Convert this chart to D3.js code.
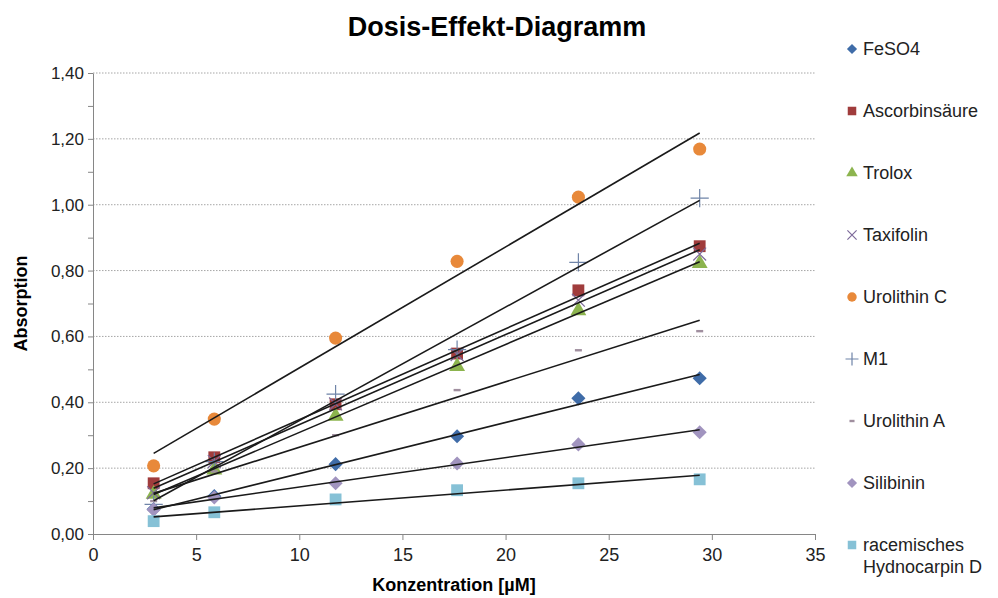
<!DOCTYPE html>
<html>
<head>
<meta charset="utf-8">
<script src="https://cdn.jsdelivr.net/npm/d3@7"></script>
<style>
  body { margin: 0; background: #fff; }
  svg { font-family: "Liberation Sans", Arial, sans-serif; }
  .axis path, .axis line { stroke: #868686; }
  .axis text { fill: #222; font-size: 18px; }
  .yaxis text { font-size: 17px; }
</style>
</head>
<body>
<div id="graf"></div>
<script>
// Daten
const konz = [2.94, 5.88, 11.76, 17.65, 23.53, 29.41]
const namen = ["FeSO4", "Ascorbinsäure", "Trolox", "Taxifolin", "Urolithin C",
               "M1", "Urolithin A", "Silibinin", "racemisches Hydnocarpin D"]
const feso4       = [0.075, 0.115, 0.212, 0.297, 0.412, 0.473]
const ascorbin    = [0.154, 0.233, 0.394, 0.548, 0.740, 0.874]
const trolox      = [0.121, 0.195, 0.358, 0.509, 0.678, 0.822]
const taxifolin   = [0.125, 0.220, 0.395, 0.545, 0.710, 0.850]
const urolithinC  = [0.207, 0.349, 0.595, 0.828, 1.023, 1.169]
const m1          = [0.090, 0.220, 0.425, 0.560, 0.825, 1.020]
const urolithinA  = [0.100, 0.190, 0.300, 0.437, 0.558, 0.616]
const silibinin   = [0.074, 0.111, 0.154, 0.214, 0.272, 0.309]
const hydnocarpin = [0.039, 0.066, 0.105, 0.133, 0.154, 0.166]
const xTicks = [0, 5, 10, 15, 20, 25, 30, 35]
const yTicks = [0, 0.2, 0.4, 0.6, 0.8, 1.0, 1.2, 1.4]

const werte = [feso4, ascorbin, trolox, taxifolin, urolithinC, m1, urolithinA, silibinin, hydnocarpin]
const farben = ["#3f6ca8", "#a03c3c", "#8cb44e", "#7d6a9a", "#e8893a",
                "#6f84a8", "#a08f9f", "#a194bf", "#86c1d6"]
const formen = ["diamond", "square", "triangle", "times", "circle", "plus", "dash", "diamond", "square"]

const series = namen.map((n, i) => ({
  name: n, color: farben[i], shape: formen[i],
  pts: konz.map((x, j) => ({ x: x, y: werte[i][j] }))
}))

// Dimensionen
const ancho = 998, alto = 598
const margins = { top: 73, right: 183, bottom: 64, left: 93 }

const svg = d3.select("#graf").append("svg")
  .attr("width", ancho).attr("height", alto)

svg.append("rect").attr("width", ancho).attr("height", alto).attr("fill", "#fff")

const x = d3.scaleLinear().domain([0, 35]).range([margins.left, ancho - margins.right])
const y = d3.scaleLinear().domain([0, 1.4]).range([alto - margins.bottom, margins.top])

const fmt = d => d3.format(".2f")(d).replace(".", ",")

// Gitterlinien
svg.append("g").selectAll("line")
  .data(yTicks.slice(1))
  .join("line")
  .attr("x1", x(0)).attr("x2", x(35))
  .attr("y1", d => y(d)).attr("y2", d => y(d))
  .attr("stroke", "#a6a6a6")
  .attr("stroke-dasharray", "1.5,1.5")

// Achsen
const minor = d3.range(0.1, 1.4, 0.2)
svg.append("g").attr("class", "axis")
  .attr("transform", `translate(${x(0)},0)`)
  .call(d3.axisLeft(y).tickValues(minor).tickSize(5).tickFormat(""))
  .call(g => g.select(".domain").remove())

svg.append("g").attr("class", "axis yaxis")
  .attr("transform", `translate(${x(0)},0)`)
  .call(d3.axisLeft(y).tickValues(yTicks).tickSize(5).tickSizeOuter(0).tickPadding(4).tickFormat(fmt))

svg.append("g").attr("class", "axis")
  .attr("transform", `translate(0,${y(0)})`)
  .call(d3.axisBottom(x).tickValues(xTicks).tickSize(6).tickSizeOuter(0).tickPadding(8))

// Marker
const symbolFor = (shape) => {
  const map = {
    diamond: [d3.symbolSquare, 100],
    square: [d3.symbolSquare, 140],
    triangle: [d3.symbolTriangle, 110],
    circle: [d3.symbolCircle, 135],
    times: [d3.symbolTimes || d3.symbolX, 110],
    plus: [d3.symbolPlus || d3.symbolCross, 110]
  }
  return map[shape]
}

const drawMarker = (sel, s, scale) => {
  if (s.shape === "dash") {
    sel.append("rect")
      .attr("x", -3.5 * scale).attr("y", -1.2)
      .attr("width", 7 * scale).attr("height", 2.4)
      .attr("fill", s.color)
    return
  }
  const [type, size] = symbolFor(s.shape)
  const p = sel.append("path")
    .attr("d", d3.symbol().type(type).size(size * scale * scale)())
  if (s.shape === "diamond") p.attr("transform", "rotate(45)")
  if (s.shape === "times" || s.shape === "plus") {
    p.attr("fill", "none").attr("stroke", s.color).attr("stroke-width", 1.2)
  } else {
    p.attr("fill", s.color)
  }
}

const gMarks = svg.append("g")
series.forEach(s => {
  s.pts.forEach(d => {
    const m = gMarks.append("g").attr("transform", `translate(${x(d.x)},${y(d.y)})`)
    drawMarker(m, s, 1)
  })
})

// Trendlinien (lineare Regression)
const gTrend = svg.append("g")
series.forEach(s => {
  const mx = d3.mean(s.pts, d => d.x), my = d3.mean(s.pts, d => d.y)
  const b = d3.sum(s.pts, d => (d.x - mx) * (d.y - my)) / d3.sum(s.pts, d => (d.x - mx) ** 2)
  const a = my - b * mx
  const xs = d3.extent(s.pts, d => d.x)
  gTrend.append("line")
    .attr("x1", x(xs[0])).attr("y1", y(a + b * xs[0]))
    .attr("x2", x(xs[1])).attr("y2", y(a + b * xs[1]))
    .attr("stroke", "#1a1a1a").attr("stroke-width", 1.6)
})

// Titel
svg.append("text")
  .attr("x", 497).attr("y", 36)
  .attr("text-anchor", "middle")
  .attr("font-size", 27).attr("font-weight", "bold")
  .text("Dosis-Effekt-Diagramm")

svg.append("text")
  .attr("x", (x(0) + x(35)) / 2).attr("y", 591)
  .attr("text-anchor", "middle")
  .attr("font-size", 18).attr("font-weight", "bold")
  .text("Konzentration [µM]")

svg.append("text")
  .attr("transform", `translate(27,${(y(0) + y(1.4)) / 2}) rotate(-90)`)
  .attr("text-anchor", "middle")
  .attr("font-size", 18).attr("font-weight", "bold")
  .text("Absorption")

// Legende
const ly = d3.scalePoint().domain(namen).range([49, 545])
const leg = svg.append("g")
series.forEach(s => {
  const g = leg.append("g").attr("transform", `translate(852,${ly(s.name)})`)
  drawMarker(g, s, 0.72)
  const t = g.append("text").attr("x", 11).attr("dy", "0.35em")
    .attr("font-size", 18).attr("fill", "#222")
  const parts = s.name === "racemisches Hydnocarpin D" ? ["racemisches", "Hydnocarpin D"] : [s.name]
  parts.forEach((p, i) => t.append("tspan").attr("x", 11).attr("dy", i === 0 ? "0.35em" : "1.2em").text(p))
})
</script>
</body>
</html>
